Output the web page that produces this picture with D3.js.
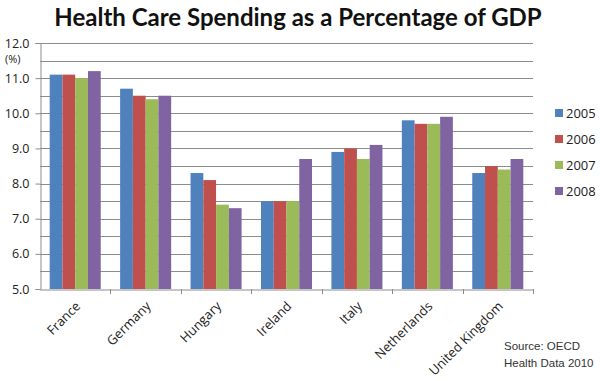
<!DOCTYPE html>
<html>
<head>
<meta charset="utf-8">
<script src="https://cdn.jsdelivr.net/npm/d3@7"></script>
<style>
  body { margin: 0; background: #fff; }
  svg { display: block; }
</style>
</head>
<body>
<div id="chart"></div>
<script>
// data
const countries = ["France", "Germany", "Hungary", "Ireland", "Italy", "Netherlands", "United Kingdom"];
const years = ["2005", "2006", "2007", "2008"];
const v2005 = [11.1, 10.7, 8.3, 7.5, 8.9, 9.8, 8.3];
const v2006 = [11.1, 10.5, 8.1, 7.5, 9.0, 9.7, 8.5];
const v2007 = [11.0, 10.4, 7.4, 7.5, 8.7, 9.7, 8.4];
const v2008 = [11.2, 10.5, 7.3, 8.7, 9.1, 9.9, 8.7];
const yTicks = [5, 6, 7, 8, 9, 10, 11, 12];
const yGrid = [5.5, 6, 6.5, 7, 7.5, 8, 8.5, 9, 9.5, 10, 10.5, 11, 11.5, 12];

const colors = ["#4F81BD", "#C0504D", "#9BBB59", "#8064A2"];
const series = [v2005, v2006, v2007, v2008];

const width = 600, height = 381;
const plotLeft = 40, plotRight = 533, plotTop = 43, plotBottom = 289;

const svg = d3.select("#chart").append("svg")
  .attr("width", width)
  .attr("height", height);

// title
svg.append("text")
  .attr("x", 298)
  .attr("y", 26)
  .attr("text-anchor", "middle")
  .style("font-family", "Lato, 'Open Sans', sans-serif")
  .style("font-weight", "bold")
  .style("font-size", "24px")
  .style("fill", "#111")
  .text("Health Care Spending as a Percentage of GDP");

const x = d3.scaleBand().domain(countries).range([plotLeft, plotRight]).padding(0);
const xs = d3.scaleBand().domain(years).range([0, x.bandwidth()]).paddingInner(0).paddingOuter(0.76);
const y = d3.scaleLinear().domain([5, 12]).range([plotBottom, plotTop]);

// gridlines
svg.append("g").selectAll("line")
  .data(yGrid)
  .enter().append("line")
  .attr("x1", plotLeft).attr("x2", plotRight)
  .attr("y1", d => Math.round(y(d)) + 0.5)
  .attr("y2", d => Math.round(y(d)) + 0.5)
  .attr("stroke", "#8c8c8c")
  .attr("stroke-width", 1);

// bars
const groups = svg.append("g").selectAll("g")
  .data(countries)
  .enter().append("g")
  .attr("transform", d => `translate(${x(d)},0)`);

groups.selectAll("rect")
  .data((d, i) => years.map((yr, j) => ({ yr: yr, v: series[j][i], c: colors[j] })))
  .enter().append("rect")
  .attr("x", d => xs(d.yr))
  .attr("width", xs.bandwidth())
  .attr("y", d => y(d.v))
  .attr("height", d => plotBottom - y(d.v))
  .attr("fill", d => d.c);

// y axis
const yAxis = d3.axisLeft(y).tickValues(yTicks).tickFormat(d3.format(".1f")).tickSize(5).tickPadding(6);
const gy = svg.append("g")
  .attr("transform", `translate(${plotLeft + 0.5},0)`)
  .call(yAxis);
gy.select(".domain").attr("stroke", "#8c8c8c");
gy.selectAll(".tick line").attr("stroke", "#8c8c8c");
gy.selectAll(".tick text")
  .style("font-family", "'Open Sans', sans-serif")
  .style("font-size", "12.5px")
  .style("fill", "#222");

svg.append("text")
  .attr("x", 5)
  .attr("y", 63)
  .style("font-family", "'Open Sans', sans-serif")
  .style("font-size", "11px")
  .style("fill", "#222")
  .text("(%)");

// x axis
const xAxis = d3.axisBottom(x).tickSize(0).tickFormat("");
const gx = svg.append("g")
  .attr("transform", `translate(0,${plotBottom + 0.5})`)
  .call(xAxis);
gx.select(".domain").attr("stroke", "#8c8c8c");

// category boundary ticks
svg.append("g").selectAll("line")
  .data(countries)
  .enter().append("line")
  .attr("x1", d => Math.round(x(d) + x.bandwidth()) + 0.5)
  .attr("x2", d => Math.round(x(d) + x.bandwidth()) + 0.5)
  .attr("y1", plotBottom)
  .attr("y2", plotBottom + 5)
  .attr("stroke", "#8c8c8c");

// rotated category labels
svg.append("g").selectAll("text")
  .data(countries)
  .enter().append("text")
  .attr("transform", d => `translate(${x(d) + x.bandwidth() / 2 + 6},${plotBottom + 18}) rotate(-45)`)
  .attr("text-anchor", "end")
  .style("font-family", "'Open Sans', sans-serif")
  .style("font-size", "13px")
  .style("fill", "#222")
  .text(d => d);

// legend
const legend = svg.append("g").selectAll("g")
  .data(years)
  .enter().append("g")
  .attr("transform", (d, i) => `translate(555,${113 + i * 26})`);
legend.append("rect")
  .attr("x", 0).attr("y", -4)
  .attr("width", 8).attr("height", 8)
  .attr("fill", (d, i) => colors[i]);
legend.append("text")
  .attr("x", 11)
  .attr("y", 5)
  .style("font-family", "'Open Sans', sans-serif")
  .style("font-size", "13px")
  .style("fill", "#222")
  .text(d => d);

// source note
svg.append("text")
  .attr("x", 504)
  .attr("y", 350)
  .style("font-family", "'Liberation Sans', Arial, sans-serif")
  .style("font-size", "11.5px")
  .style("fill", "#333")
  .text("Source: OECD");
svg.append("text")
  .attr("x", 504)
  .attr("y", 367)
  .style("font-family", "'Liberation Sans', Arial, sans-serif")
  .style("font-size", "11.5px")
  .style("fill", "#333")
  .text("Health Data 2010");
</script>
</body>
</html>
